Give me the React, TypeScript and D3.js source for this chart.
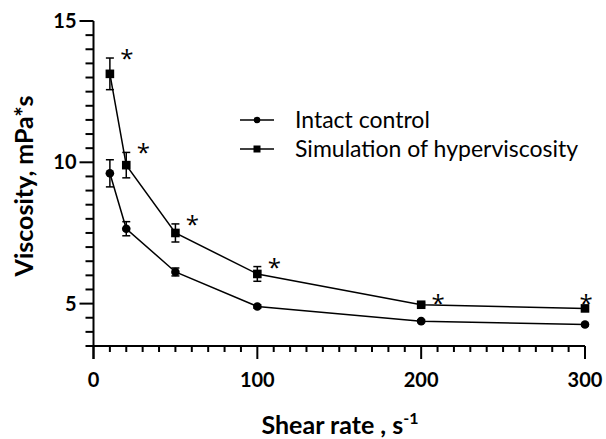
import React from 'react';
import * as d3 from 'd3';

const shearRates = [10, 20, 50, 100, 200, 300];
const intactMean = [9.61, 7.65, 6.12, 4.9, 4.38, 4.26];
const intactErr = [0.48, 0.25, 0.14, 0.06, 0.05, 0.04];
const hyperMean = [13.13, 9.9, 7.5, 6.05, 4.96, 4.83];
const hyperErr = [0.56, 0.45, 0.32, 0.26, 0.06, 0.05];
const significant = [true, true, true, true, true, true];
const yMajorTicks = [5, 10, 15];
const xMajorTicks = [0, 100, 200, 300];
const seriesNames = ['Intact control', 'Simulation of hyperviscosity'];
const yTitle = 'Viscosity, mPa*s';
const xTitle = 'Shear rate , s';

const W = 606;
const H = 439;
const FONT = 'Lato, "Open Sans", sans-serif';
const STAR_FONT = '"Open Sans", sans-serif';

export default function App() {
  const x = d3.scaleLinear().domain([0, 300]).range([93.5, 585]);
  const y = d3.scaleLinear().domain([3.5, 15]).range([346, 21]);
  const yMinor = d3.range(3.5, 15.001, 0.5);
  const xMinor = d3.range(0, 300.001, 10);
  const line = d3
    .line<number>()
    .x((_, i) => x(shearRates[i]))
    .y((d) => y(d));

  const errBars = (means: number[], errs: number[], key: string) =>
    means.map((m, i) => {
      const cx = x(shearRates[i]);
      const t = y(m + errs[i]);
      const b = y(m - errs[i]);
      return (
        <g key={key + i} stroke="#000" strokeWidth={1.5}>
          <line x1={cx} x2={cx} y1={t} y2={b} />
          <line x1={cx - 4} x2={cx + 4} y1={t} y2={t} />
          <line x1={cx - 4} x2={cx + 4} y1={b} y2={b} />
        </g>
      );
    });

  return (
    <svg
      width={W}
      height={H}
      style={{ position: 'absolute', left: 0, top: 0, background: '#fff' }}
    >
      <rect width={W} height={H} fill="#fff" />
      <g stroke="#000" strokeWidth={2}>
        <line x1={x(0)} x2={x(0)} y1={y(15)} y2={y(3.5) + 13} />
        {yMinor.map((v) => (
          <line
            key={'ym' + v}
            x1={x(0) - (yMajorTicks.includes(v) ? 14 : 8)}
            x2={x(0)}
            y1={y(v)}
            y2={y(v)}
          />
        ))}
        <line x1={x(0)} x2={x(300)} y1={y(3.5)} y2={y(3.5)} />
        {xMinor.map((v) => (
          <line
            key={'xm' + v}
            x1={x(v)}
            x2={x(v)}
            y1={y(3.5)}
            y2={y(3.5) + (xMajorTicks.includes(v) ? 13 : 6)}
          />
        ))}
      </g>
      {yMajorTicks.map((v) => (
        <text
          key={'yl' + v}
          x={x(0) - 17}
          y={y(v) + 7}
          textAnchor="end"
          fontFamily={FONT}
          fontWeight="bold"
          fontSize={20}
          fill="#000"
        >
          {v}
        </text>
      ))}
      {xMajorTicks.map((v) => (
        <text
          key={'xl' + v}
          x={x(v)}
          y={387}
          textAnchor="middle"
          fontFamily={FONT}
          fontWeight="bold"
          fontSize={20}
          fill="#000"
        >
          {v}
        </text>
      ))}
      <text
        transform={`translate(33,186) rotate(-90)`}
        textAnchor="middle"
        fontFamily={FONT}
        fontWeight="bold"
        fontSize={25}
        fill="#000"
      >
        {yTitle}
      </text>
      <text
        x={340}
        y={434}
        textAnchor="middle"
        fontFamily={FONT}
        fontWeight="bold"
        fontSize={25}
        fill="#000"
      >
        {xTitle}
        <tspan dy={-10} fontSize={16}>
          -1
        </tspan>
      </text>

      <path d={line(intactMean) || ''} fill="none" stroke="#000" strokeWidth={1.5} />
      <path d={line(hyperMean) || ''} fill="none" stroke="#000" strokeWidth={1.5} />
      {errBars(intactMean, intactErr, 'ie')}
      {errBars(hyperMean, hyperErr, 'he')}
      {intactMean.map((m, i) => (
        <circle key={'ic' + i} cx={x(shearRates[i])} cy={y(m)} r={4.3} fill="#000" />
      ))}
      {hyperMean.map((m, i) => (
        <rect
          key={'hr' + i}
          x={x(shearRates[i]) - 4.3}
          y={y(m) - 4.3}
          width={8.6}
          height={8.6}
          fill="#000"
        />
      ))}
      {hyperMean.map((m, i) => {
        if (!significant[i]) return null;
        const last = i === hyperMean.length - 1;
        const cx = x(shearRates[i]) + (last ? 1 : 17);
        const cy = last ? y(m) - 10 : y(m + hyperErr[i]) - 5;
        return (
          <text
            key={'st' + i}
            x={cx}
            y={cy + 14}
            textAnchor="middle"
            fontFamily={STAR_FONT}
            fontSize={24}
            fill="#000"
          >
            *
          </text>
        );
      })}

      {seriesNames.map((name, i) => {
        const ly = 120 + i * 29;
        return (
          <g key={'lg' + i}>
            <line x1={240} x2={274} y1={ly} y2={ly} stroke="#000" strokeWidth={1.5} />
            {i === 0 ? (
              <circle cx={257} cy={ly} r={3.3} fill="#000" />
            ) : (
              <rect x={253.5} y={ly - 3.5} width={7} height={7} fill="#000" />
            )}
            <text x={295} y={ly + 8} fontFamily={FONT} fontSize={23} fill="#000">
              {name}
            </text>
          </g>
        );
      })}
    </svg>
  );
}
